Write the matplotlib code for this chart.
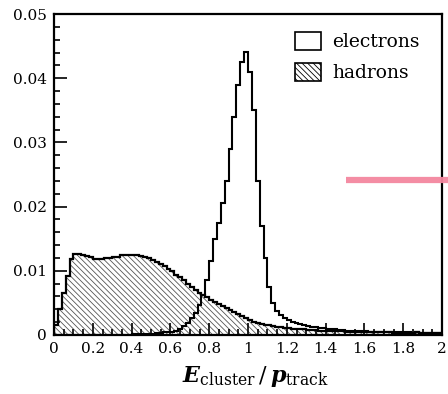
import matplotlib
matplotlib.use('Agg')
import matplotlib.pyplot as plt
import numpy as np
from matplotlib.lines import Line2D
from matplotlib.patches import Patch
from matplotlib.ticker import MultipleLocator, FuncFormatter

# histogram bins of E_cluster/p_track, 0..2 in steps of 0.02
bin_edges = np.linspace(0, 2, 101)

hadrons = [
    0.0015, 0.0040, 0.0065, 0.0092, 0.0118, 0.0126, 0.0126, 0.0125, 0.0123, 0.0121,
    0.0119, 0.0118, 0.0119, 0.0120, 0.0120, 0.0121, 0.0122, 0.0124, 0.0124, 0.0125,
    0.0125, 0.0124, 0.0123, 0.0121, 0.0120, 0.0117, 0.0114, 0.0111, 0.0107, 0.0103,
    0.0099, 0.0094, 0.0090, 0.0085, 0.0080, 0.0075, 0.0070, 0.0066, 0.0062, 0.0059,
    0.0055, 0.0052, 0.0049, 0.0045, 0.0042, 0.0039, 0.0036, 0.0033, 0.0030, 0.0027,
    0.0024, 0.0021, 0.0019, 0.0017, 0.0016, 0.0015, 0.0014, 0.0013, 0.0012, 0.0011,
    0.0011, 0.0010, 0.0010, 0.0009, 0.0009, 0.0008, 0.0008, 0.0008, 0.0007, 0.0007,
    0.0007, 0.0006, 0.0006, 0.0006, 0.0006, 0.0005, 0.0005, 0.0005, 0.0005, 0.0005,
    0.0004, 0.0004, 0.0004, 0.0004, 0.0004, 0.0004, 0.0004, 0.0003, 0.0003, 0.0003,
    0.0003, 0.0003, 0.0003, 0.0004, 0.0003, 0.0003, 0.0003, 0.0003, 0.0003, 0.0003,
]

electrons = [
    0, 0, 0, 0, 0, 0, 0, 0, 0, 0,
    0, 0, 0, 0, 0, 0, 0, 0, 0, 0,
    0.0001, 0.0001, 0.0001, 0.0002, 0.0002, 0.0002, 0.0003, 0.0003, 0.0004, 0.0004,
    0.0005, 0.0007, 0.0010, 0.0014, 0.0019, 0.0026, 0.0035, 0.0047, 0.0062, 0.0085,
    0.0115, 0.0150, 0.0175, 0.0205, 0.0240, 0.0290, 0.0340, 0.0390, 0.0425, 0.0441,
    0.0410, 0.0350, 0.0240, 0.0170, 0.0120, 0.0075, 0.0050, 0.0038, 0.0031, 0.0027,
    0.0024, 0.0021, 0.0019, 0.0017, 0.0015, 0.0014, 0.0013, 0.0012, 0.0011, 0.0011,
    0.0010, 0.0009, 0.0009, 0.0008, 0.0008, 0.0007, 0.0007, 0.0007, 0.0006, 0.0006,
    0.0006, 0.0005, 0.0005, 0.0005, 0.0005, 0.0005, 0.0004, 0.0004, 0.0004, 0.0004,
    0.0004, 0.0004, 0.0003, 0.0004, 0.0003, 0.0003, 0.0003, 0.0003, 0.0003, 0.0003,
]

legend_labels = ['electrons', 'hadrons']

plt.rcParams['font.family'] = 'DejaVu Serif'
plt.rcParams['mathtext.fontset'] = 'custom'
plt.rcParams['mathtext.rm'] = 'DejaVu Serif'
plt.rcParams['mathtext.it'] = 'DejaVu Serif:bold:italic'
plt.rcParams['hatch.linewidth'] = 0.6

HATCH = '\\\\\\\\\\\\'

fig = plt.figure(figsize=(4.48, 3.94), dpi=100)
ax = fig.add_axes([54 / 448, 59 / 394, 388 / 448, 321 / 394])

ax.stairs(hadrons, bin_edges, fill=True, facecolor='white', edgecolor='#555555',
          linewidth=0, hatch=HATCH)
ax.stairs(hadrons, bin_edges, color='black', linewidth=1.6)
ax.stairs(electrons, bin_edges, color='black', linewidth=1.5)

ax.set_xlim(0, 2)
ax.set_ylim(0, 0.05)

fmt = FuncFormatter(lambda v, p: '%g' % round(v, 4))
ax.xaxis.set_major_locator(MultipleLocator(0.2))
ax.xaxis.set_minor_locator(MultipleLocator(0.05))
ax.yaxis.set_major_locator(MultipleLocator(0.01))
ax.yaxis.set_minor_locator(MultipleLocator(0.002))
ax.xaxis.set_major_formatter(fmt)
ax.yaxis.set_major_formatter(fmt)
ax.tick_params(which='both', direction='in', top=False, right=False,
               labelsize=11, width=1.2)
ax.tick_params(which='major', length=9, pad=5)
ax.tick_params(which='minor', length=4.5)

for s in ax.spines.values():
    s.set_linewidth(1.6)

ax.set_xlabel(r'$E_{\mathrm{cluster}}\,/\,p_{\mathrm{track}}$', fontsize=16)
ax.xaxis.set_label_coords(0.52, -0.09)
ax.xaxis.label.set_verticalalignment('top')

handles = [Patch(facecolor='white', edgecolor='black', linewidth=1.2),
           Patch(facecolor='white', edgecolor='black', linewidth=1.2, hatch=HATCH)]
ax.legend(handles, legend_labels, loc='upper left',
          bbox_to_anchor=(295 / 448, 1 - 32 / 394), bbox_transform=fig.transFigure,
          frameon=False, fontsize=13.5, handlelength=1.4, handleheight=1.1,
          handletextpad=0.6, labelspacing=0.6, borderpad=0, borderaxespad=0)

# pink marker stroke at the right edge
fig.add_artist(Line2D([346 / 448, 1.0], [1 - 180 / 394, 1 - 180 / 394],
                      transform=fig.transFigure, color='#f4879f', linewidth=4.5,
                      solid_capstyle='butt', alpha=0.95, zorder=10))

fig.savefig('out.png', dpi=100)
